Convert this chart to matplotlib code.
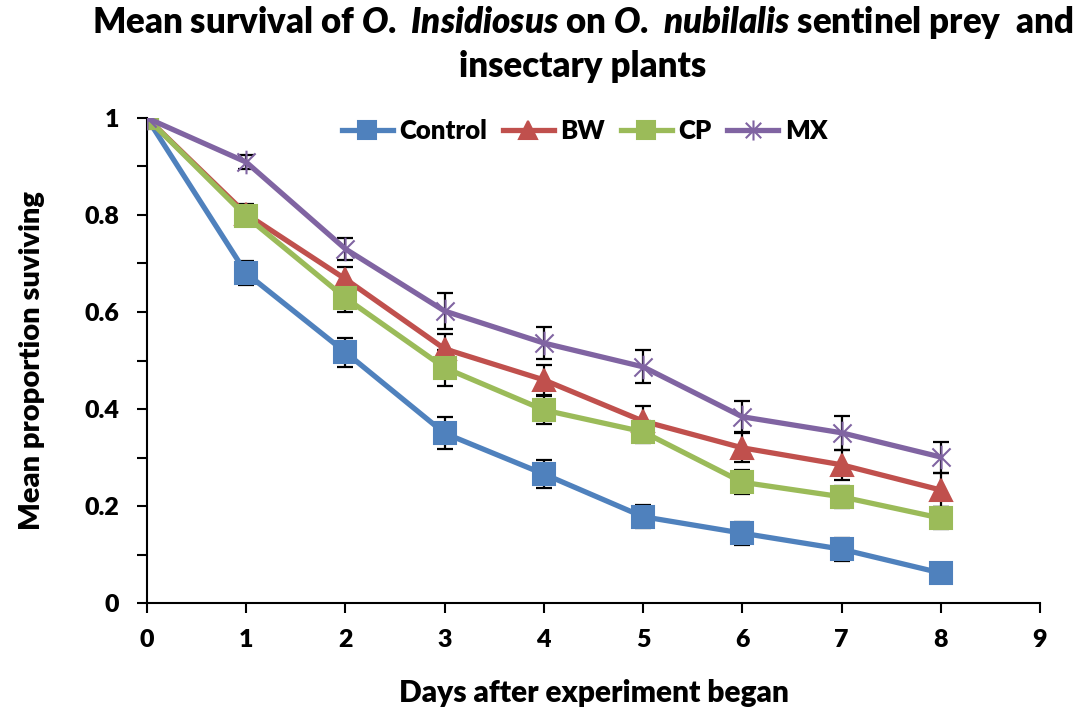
import numpy as np
import matplotlib
matplotlib.use("Agg")
import matplotlib.pyplot as plt
from matplotlib.path import Path

W = "heavy"
plt.rcParams["font.family"] = "Lato"
plt.rcParams["font.weight"] = W
plt.rcParams["mathtext.fontset"] = "custom"
plt.rcParams["mathtext.rm"] = "Lato:heavy"
plt.rcParams["mathtext.it"] = "Lato:heavy:italic"

# data
days = [0, 1, 2, 3, 4, 5, 6, 7, 8]
control = [1.0, 0.680, 0.517, 0.350, 0.266, 0.178, 0.144, 0.111, 0.062]
bw = [1.0, 0.802, 0.668, 0.524, 0.460, 0.375, 0.320, 0.285, 0.233]
cp = [1.0, 0.797, 0.629, 0.485, 0.398, 0.353, 0.249, 0.219, 0.175]
mx = [1.0, 0.909, 0.730, 0.602, 0.536, 0.487, 0.384, 0.351, 0.301]

control_err = [0, 0.025, 0.030, 0.033, 0.028, 0.024, 0.024, 0.024, 0.010]
bw_err = [0, 0.020, 0.025, 0.030, 0.031, 0.031, 0.030, 0.031, 0.035]
cp_err = [0, 0.020, 0.028, 0.037, 0.029, 0.023, 0.025, 0.023, 0.023]
mx_err = [0, 0.015, 0.022, 0.037, 0.033, 0.034, 0.032, 0.035, 0.032]

labels = ["Control", "BW", "CP", "MX"]
colors = ["#4F81BD", "#C0504D", "#9BBB59", "#8064A2"]

# star marker: X plus vertical line
star = Path([(-1, -1), (1, 1), (-1, 1), (1, -1), (0, -1.3), (0, 1.3)],
            [Path.MOVETO, Path.LINETO, Path.MOVETO, Path.LINETO, Path.MOVETO, Path.LINETO])
markers = ["s", "^", "s", star]
msizes = [16, 16, 16, 17]

fig = plt.figure(figsize=(10.75, 7.19), dpi=100)
ax = fig.add_axes([0.1367, 0.1613, 0.8307, 0.6746])

series = [control, bw, cp, mx]
errs = [control_err, bw_err, cp_err, mx_err]
for vals, err, lab, col, mk, ms in zip(series, errs, labels, colors, markers, msizes):
    ax.errorbar(days, vals, yerr=err, fmt="none", ecolor="black", elinewidth=1.6,
                capsize=6, capthick=1.6, zorder=2)
    ax.plot(days, vals, color=col, lw=3.8, marker=mk, markersize=ms,
            markeredgecolor=col, markeredgewidth=1.5, label=lab, zorder=3)

ax.set_xlim(0, 9)
ax.set_ylim(0, 1)
ax.set_xticks(range(10))
ax.set_yticks(np.arange(0, 1.01, 0.1))
ax.set_yticklabels(["0", "", "0.2", "", "0.4", "", "0.6", "", "0.8", "", "1"])
ax.tick_params(axis="both", direction="out", length=7, width=1.5, labelsize=18)
ax.tick_params(axis="x", pad=12)
ax.tick_params(axis="y", pad=13)
for s in ["top", "right"]:
    ax.spines[s].set_visible(False)
for s in ["left", "bottom"]:
    ax.spines[s].set_linewidth(1.5)
    ax.spines[s].set_color("black")
for t in ax.get_xticklabels() + ax.get_yticklabels():
    t.set_fontweight(W)

ax.set_xlabel("Days after experiment began", fontsize=21.5, fontweight=W, labelpad=20)
ax.set_ylabel("Mean proportion suviving", fontsize=21, fontweight=W, labelpad=28)

ax.legend(loc="center", bbox_to_anchor=(0.49, 0.973), ncol=4, frameon=False,
          handlelength=2.0, columnspacing=0.6, handletextpad=0.25, markerscale=0.85,
          prop={"weight": W, "size": 18.5})

fig.text(0.542, 1 - 33 / 719,
         r"Mean survival of $\mathit{O.\ Insidiosus}$ on $\mathit{O.\ nubilalis}$ sentinel prey  and",
         ha="center", va="baseline", fontsize=25, fontweight=W)
fig.text(0.542, 1 - 77 / 719, "insectary plants", ha="center", va="baseline", fontsize=25,
         fontweight=W)

fig.savefig("out.png", dpi=100)
